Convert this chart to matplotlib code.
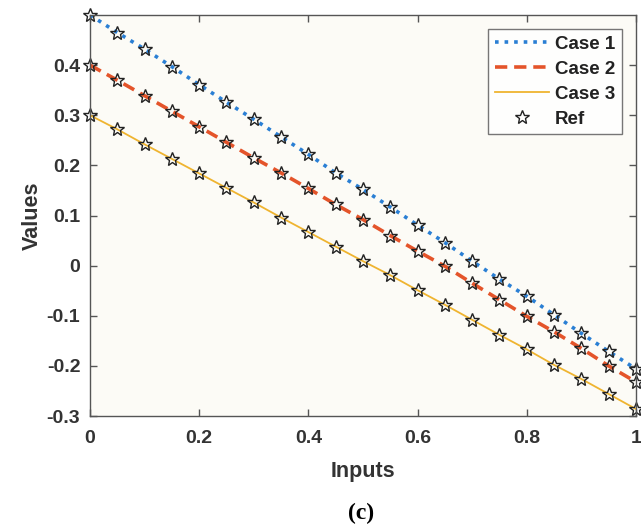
import numpy as np
import matplotlib.pyplot as plt

# data
inputs = [0.0, 0.05, 0.1, 0.15, 0.2, 0.25, 0.3, 0.35, 0.4, 0.45, 0.5,
          0.55, 0.6, 0.65, 0.7, 0.75, 0.8, 0.85, 0.9, 0.95, 1.0]
case1 = [0.5, 0.465, 0.432, 0.397, 0.361, 0.326, 0.292, 0.257, 0.222, 0.185, 0.152,
         0.117, 0.081, 0.046, 0.009, -0.027, -0.061, -0.098, -0.135, -0.171, -0.206]
case2 = [0.4, 0.370, 0.339, 0.308, 0.277, 0.246, 0.215, 0.185, 0.154, 0.122, 0.092,
         0.060, 0.029, -0.001, -0.035, -0.068, -0.101, -0.132, -0.165, -0.200, -0.232]
case3 = [0.3, 0.272, 0.242, 0.213, 0.184, 0.155, 0.126, 0.096, 0.067, 0.038, 0.009,
         -0.019, -0.049, -0.078, -0.108, -0.138, -0.167, -0.198, -0.226, -0.256, -0.286]
ref = [case1, case2, case3]

xticks = [0, 0.2, 0.4, 0.6, 0.8, 1]
xticklabels = ['0', '0.2', '0.4', '0.6', '0.8', '1']
yticks = [-0.3, -0.2, -0.1, 0, 0.1, 0.2, 0.3, 0.4]
yticklabels = ['-0.3', '-0.2', '-0.1', '0', '0.1', '0.2', '0.3', '0.4']

plt.rcParams['font.family'] = ['Liberation Sans', 'DejaVu Sans']
plt.rcParams['font.weight'] = 'bold'

fig = plt.figure(figsize=(6.41, 5.29), dpi=100)
ax = fig.add_axes([0.1404, 0.2136, 0.8516, 0.758])
ax.set_facecolor('#fcfbf6')

ax.plot(inputs, case1, ':', color='#2a7fd4', lw=2.6, label='Case 1')
ax.plot(inputs, case2, '--', color='#e4542a', lw=2.6, dashes=(3.4, 1.9), label='Case 2')
ax.plot(inputs, case3, '-', color='#efb430', lw=1.3, label='Case 3')
for i, vals in enumerate(ref):
    ax.plot(inputs, vals, '*', ms=10, mfc='none', mec='#222222', mew=1.0,
            label='Ref' if i == 0 else None, clip_on=False)

ax.set_xlim(0, 1)
ax.set_ylim(-0.3, 0.5)
ax.set_xticks(xticks)
ax.set_xticklabels(xticklabels)
ax.set_yticks(yticks)
ax.set_yticklabels(yticklabels)
ax.tick_params(direction='in', top=True, right=True, length=5, width=1,
               labelsize=14, colors='#555555', labelcolor='#333333')
ax.tick_params(axis='x', pad=10)
ax.tick_params(axis='y', pad=7)
for s in ax.spines.values():
    s.set_color('#555555')
    s.set_linewidth(1.0)

ax.set_xlabel('Inputs', fontsize=15.5, fontweight='bold', color='#333333', labelpad=10)
ax.set_ylabel('Values', fontsize=15.5, fontweight='bold', color='#333333', labelpad=3)

leg = ax.legend(loc='upper right', fontsize=13.5, frameon=True, fancybox=False,
                edgecolor='#555555', handlelength=2.9, handletextpad=0.3,
                borderaxespad=0.75, labelspacing=0.42, borderpad=0.35)
leg.get_frame().set_linewidth(1.0)
leg.get_frame().set_facecolor('white')
for t in leg.get_texts():
    t.set_color('#222222')

fig.text(0.563, 0.01, '(c)', fontsize=17, fontweight='bold',
         family=['Liberation Serif', 'DejaVu Serif'], ha='center', va='bottom')

fig.savefig('out.png', dpi=100)
